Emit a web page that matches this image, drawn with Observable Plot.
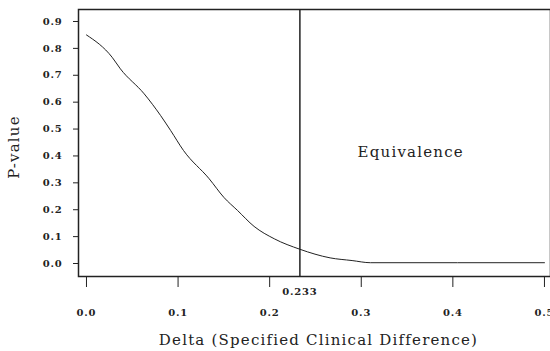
<!DOCTYPE html>
<html><head><meta charset="utf-8">
<script src="https://cdn.jsdelivr.net/npm/d3@7"></script>
<script src="https://cdn.jsdelivr.net/npm/@observablehq/plot@0.6"></script>
<style>
body{margin:0;background:#fff;}
svg text{font-family:"DejaVu Serif","Liberation Serif",serif;}
g[aria-label$="tick label"] text{font-weight:bold;letter-spacing:0.8px;}
.spaced text{letter-spacing:1.2px;}
.title text{letter-spacing:1.2px;}
</style></head><body><div id="chart"></div>
<script>
const delta  = [0, 0.028, 0.037, 0.063, 0.081, 0.092, 0.106, 0.134, 0.150, 0.165, 0.183, 0.205, 0.233, 0.266, 0.290, 0.310, 0.500];
const pValue = [0.850, 0.767, 0.724, 0.631, 0.550, 0.494, 0.420, 0.315, 0.246, 0.197, 0.138, 0.092, 0.053, 0.021, 0.011, 0.003, 0.003];
const xTicks = [0, 0.1, 0.2, 0.3, 0.4, 0.5];
const yTicks = [0, 0.1, 0.2, 0.3, 0.4, 0.5, 0.6, 0.7, 0.8, 0.9];
const cutoff = [0.233];
const cutoffLabel = "0.233";
const regionLabel = ["Equivalence"];
const regionLabelAt = {x: 0.354, y: 0.415};
const xTitle = ["Delta (Specified Clinical Difference)"];
const yTitle = ["P-value"];

const data = delta.map((d, i) => ({delta: d, p: pValue[i]}));
const ink = "#222";
const chart = Plot.plot({
  width: 550, height: 351,
  marginLeft: 78, marginRight: 0, marginTop: 9, marginBottom: 75,
  style: {background: "#fff", color: ink, fontFamily: "DejaVu Serif, serif"},
  x: {domain: [-0.0087, 0.5066]},
  y: {domain: [-0.0483, 0.9446]},
  marks: [
    Plot.frame({stroke: ink, strokeWidth: 1.5}),
    Plot.axisX({ticks: xTicks, tickSize: 11, tickPadding: 21, tickFormat: d3.format(".1f"), fontSize: 10, label: null}),
    Plot.axisX({ticks: cutoff, tickSize: 0, tickPadding: 11, tickFormat: () => cutoffLabel, fontSize: 10, label: null}),
    Plot.axisY({ticks: yTicks, tickSize: 5, tickPadding: 11, tickFormat: d3.format(".1f"), fontSize: 10, label: null}),
    Plot.ruleX(cutoff, {stroke: ink, strokeWidth: 1.5}),
    Plot.line(data, {x: "delta", y: "p", stroke: ink, strokeWidth: 1, curve: "monotone-x"}),
    Plot.text(regionLabel, {x: () => regionLabelAt.x, y: () => regionLabelAt.y, text: d => d, fontSize: 15, className: "spaced", fill: ink}),
    Plot.text(xTitle, {frameAnchor: "bottom", text: d => d, lineAnchor: "middle", textAnchor: "middle", dy: 64, dx: 4, fontSize: 15, className: "title", fill: ink}),
    Plot.text(yTitle, {frameAnchor: "left", text: d => d, rotate: -90, textAnchor: "middle", lineAnchor: "middle", dx: -64, dy: 4, fontSize: 15, className: "title", fill: ink})
  ]
});
document.getElementById("chart").append(chart);
</script></body></html>
